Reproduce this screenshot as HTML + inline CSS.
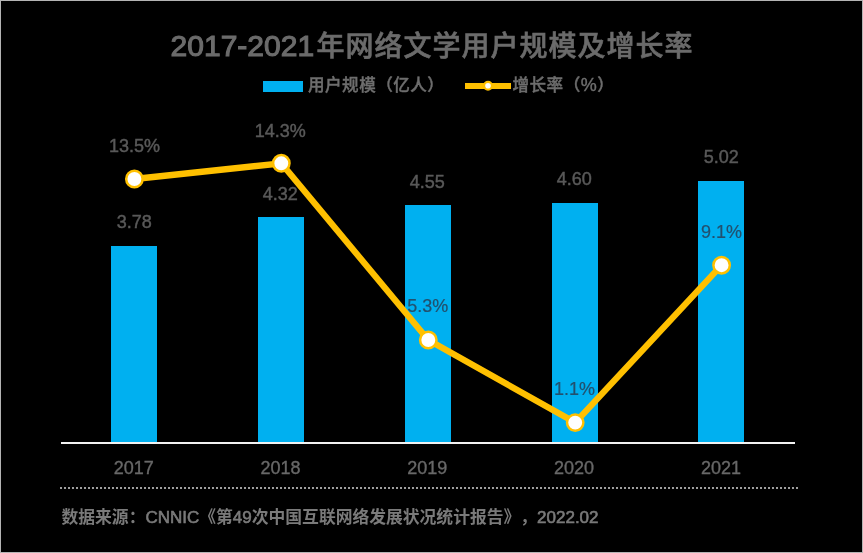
<!DOCTYPE html>
<html lang="zh-CN">
<head>
<meta charset="utf-8">
<title>2017-2021年网络文学用户规模及增长率</title>
<style>
  html, body { margin: 0; padding: 0; background: #000; }
  body { width: 863px; height: 553px; overflow: hidden; }
  svg { display: block; }
  .t { font-family: "Liberation Sans", "Noto Sans CJK SC", sans-serif; text-spacing-trim: space-all; }
</style>
</head>
<body>
<svg width="863" height="553" viewBox="0 0 863 553">
  <rect x="0" y="0" width="863" height="553" fill="#000"/>
  <rect x="0.5" y="0.5" width="862" height="552" fill="none" stroke="#b4b4b4" stroke-width="1"/>

  <!-- title -->
  <text class="t" x="170.6" y="55.6" font-size="30" fill="#6b6b6b"><tspan stroke="#6b6b6b" stroke-width="1.1">2017-2021</tspan><tspan dx="2.5" font-size="28" font-weight="500" letter-spacing="1" stroke="#6b6b6b" stroke-width="0.6">年网络文学用户规模及增长率</tspan></text>

  <!-- legend -->
  <rect x="263" y="81" width="40" height="11" fill="#00B0F0"/>
  <text class="t" x="308" y="91.2" font-size="16.6" letter-spacing="0.45" font-weight="500" fill="#6e6e6e" stroke="#6e6e6e" stroke-width="0.4">用户规模（亿人）</text>
  <line x1="465" y1="86" x2="511" y2="86" stroke="#FFC000" stroke-width="6"/>
  <circle cx="488" cy="85.8" r="3.9" fill="#fff" stroke="#FFC000" stroke-width="2.2"/>
  <text class="t" x="512.5" y="91.2" font-size="16.6" letter-spacing="0.45" font-weight="500" fill="#6e6e6e" stroke="#6e6e6e" stroke-width="0.4">增长率（<tspan font-size="18">%</tspan>）</text>

  <!-- bars -->
  <g fill="#00B0F0">
    <rect x="111" y="246" width="46" height="196"/>
    <rect x="258" y="217" width="46" height="225"/>
    <rect x="405" y="205" width="46" height="237"/>
    <rect x="552" y="203" width="46" height="239"/>
    <rect x="698" y="181" width="46" height="261"/>
  </g>

  <!-- axis -->
  <rect x="61" y="442" width="734" height="2" fill="#f2f2f2"/>

  <!-- data labels -->
  <g class="t" font-size="18" fill="#595959" stroke="#595959" stroke-width="0.45" text-anchor="middle">
    <text x="134.2" y="228">3.78</text>
    <text x="280.2" y="199.7">4.32</text>
    <text x="427.2" y="187.7">4.55</text>
    <text x="574.2" y="185">4.60</text>
    <text x="721.3" y="162.7">5.02</text>
    <text x="134.4" y="151.6">13.5%</text>
    <text x="280.2" y="137">14.3%</text>
  </g>
  <g class="t" font-size="18" fill="#22506e" stroke="#22506e" stroke-width="0.2" text-anchor="middle">
    <text x="427.7" y="312.3">5.3%</text>
    <text x="574.5" y="395">1.1%</text>
    <text x="721.5" y="238">9.1%</text>
  </g>

  <!-- line -->
  <polyline points="134.4,179 281.3,163.3 428.3,340 575.2,422.6 721.6,265.2" fill="none" stroke="#FFC000" stroke-width="6.3" stroke-linejoin="round"/>
  <g fill="#fff" stroke="#FFC000" stroke-width="2.5">
    <circle cx="134.4" cy="179" r="8.2"/>
    <circle cx="281.3" cy="163.3" r="8.2"/>
    <circle cx="428.3" cy="340" r="8.2"/>
    <circle cx="575.2" cy="422.6" r="8.2"/>
    <circle cx="721.6" cy="265.2" r="8.2"/>
  </g>

  <!-- x labels -->
  <g class="t" font-size="18" fill="#686868" stroke="#686868" stroke-width="0.35" text-anchor="middle">
    <text x="133.7" y="474">2017</text>
    <text x="280.5" y="474">2018</text>
    <text x="427.3" y="474">2019</text>
    <text x="574.1" y="474">2020</text>
    <text x="720.9" y="474">2021</text>
  </g>

  <!-- dotted separator -->
  <line x1="60" y1="488" x2="798" y2="488" stroke="#9e9e9e" stroke-width="2" stroke-dasharray="2 2"/>

  <!-- source -->
  <text class="t" x="61.5" y="523" font-size="16.8" font-weight="bold" fill="#7a7a7a">数据来源：<tspan font-size="17" font-weight="normal" stroke="#7a7a7a" stroke-width="0.6">CNNIC</tspan>《第<tspan font-size="17" font-weight="normal" stroke="#7a7a7a" stroke-width="0.6">49</tspan>次中国互联网络发展状况统计报告》，<tspan font-size="17" font-weight="normal" stroke="#7a7a7a" stroke-width="0.6">2022.02</tspan></text>
</svg>
</body>
</html>
